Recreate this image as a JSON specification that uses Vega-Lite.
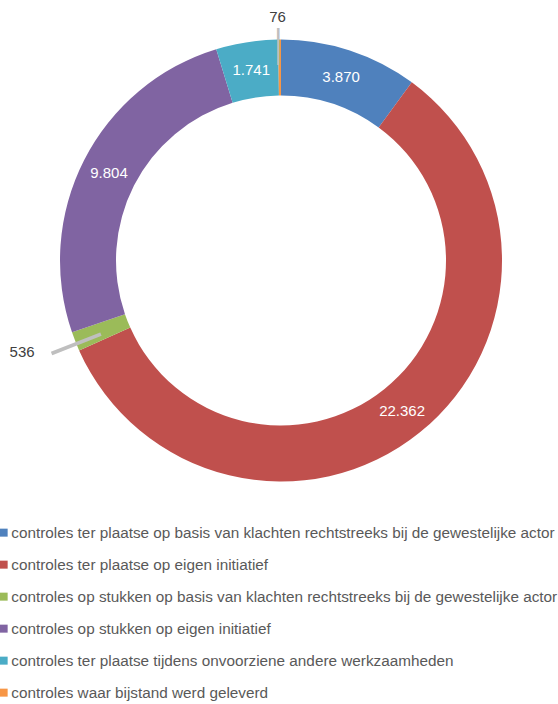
{
  "$schema": "https://vega.github.io/schema/vega-lite/v6.json",
  "width": 558,
  "height": 521,
  "autosize": "none",
  "padding": {"left": 2, "top": 0, "right": -2, "bottom": 183},
  "background": "white",
  "config": {
    "view": {"stroke": null},
    "locale": {"number": {"decimal": ",", "thousands": ".", "grouping": [3], "currency": ["€", ""]}}
  },
  "data": {
    "values": [
      {"nr": 1, "category": "controles ter plaatse op basis van klachten rechtstreeks bij de gewestelijke actor", "value": 3870},
      {"nr": 2, "category": "controles ter plaatse op eigen initiatief", "value": 22362},
      {"nr": 3, "category": "controles op stukken op basis van klachten rechtstreeks bij de gewestelijke actor", "value": 536},
      {"nr": 4, "category": "controles op stukken op eigen initiatief", "value": 9804},
      {"nr": 5, "category": "controles ter plaatse tijdens onvoorziene andere werkzaamheden", "value": 1741},
      {"nr": 6, "category": "controles waar bijstand werd geleverd", "value": 76}
    ]
  },
  "encoding": {
    "theta": {"field": "value", "type": "quantitative", "stack": true},
    "order": {"field": "nr", "type": "quantitative"}
  },
  "layer": [
    {
      "mark": {"type": "arc", "radius": 221, "radius2": 165},
      "encoding": {
        "color": {
          "field": "category",
          "type": "nominal",
          "scale": {
            "domain": [
              "controles ter plaatse op basis van klachten rechtstreeks bij de gewestelijke actor",
              "controles ter plaatse op eigen initiatief",
              "controles op stukken op basis van klachten rechtstreeks bij de gewestelijke actor",
              "controles op stukken op eigen initiatief",
              "controles ter plaatse tijdens onvoorziene andere werkzaamheden",
              "controles waar bijstand werd geleverd"
            ],
            "range": ["#4F81BD", "#C0504D", "#9BBB59", "#8064A2", "#4BACC6", "#F79646"]
          },
          "legend": {
            "title": null,
            "orient": "none",
            "legendX": -6,
            "legendY": 525,
            "padding": 0,
            "symbolType": "square",
            "symbolSize": 64,
            "symbolStrokeWidth": 0,
            "labelFont": "Liberation Sans",
            "labelFontSize": 15.3,
            "labelColor": "#595959",
            "labelLimit": 2000,
            "labelOffset": 0,
            "rowPadding": 16
          }
        }
      }
    },
    {
      "mark": {"type": "text", "text": "—", "angle": 90, "font": "Liberation Sans", "fontSize": 37, "fill": "#BFBFBF", "align": "center", "baseline": "middle", "radius": 214},
      "encoding": {"opacity": {"condition": {"test": "datum.value == 76", "value": 1}, "value": 0}}
    },
    {
      "mark": {"type": "text", "text": "—", "angle": 338.5, "font": "Liberation Sans", "fontSize": 53, "fill": "#BFBFBF", "align": "center", "baseline": "middle", "radius": 221},
      "encoding": {"opacity": {"condition": {"test": "datum.value == 536", "value": 1}, "value": 0}}
    },
    {
      "mark": {"type": "text", "radius": 193, "font": "Liberation Sans", "fontSize": 15, "fill": "white", "align": "center", "baseline": "middle"},
      "encoding": {
        "text": {"field": "value", "type": "quantitative", "format": ",d"},
        "opacity": {"condition": {"test": "datum.value > 1000", "value": 1}, "value": 0}
      }
    },
    {
      "mark": {"type": "text", "radius": 243.5, "dx": -2, "font": "Liberation Sans", "fontSize": 15, "fill": "#404040", "align": "center", "baseline": "middle"},
      "encoding": {
        "text": {"field": "value", "type": "quantitative", "format": ",d"},
        "opacity": {"condition": {"test": "datum.value == 76", "value": 1}, "value": 0}
      }
    },
    {
      "mark": {"type": "text", "radius": 275, "dx": -3, "dy": -9, "font": "Liberation Sans", "fontSize": 15, "fill": "#404040", "align": "center", "baseline": "middle"},
      "encoding": {
        "text": {"field": "value", "type": "quantitative", "format": ",d"},
        "opacity": {"condition": {"test": "datum.value == 536", "value": 1}, "value": 0}
      }
    }
  ]
}
